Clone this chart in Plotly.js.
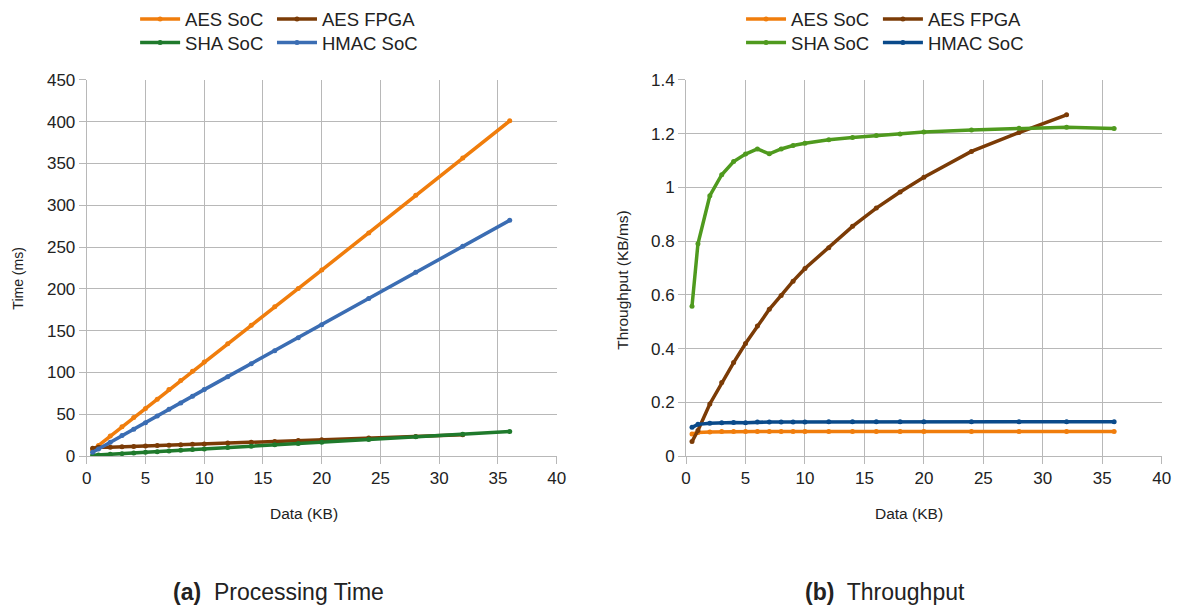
<!DOCTYPE html>
<html>
<head>
<meta charset="utf-8">
<script src="https://cdn.plot.ly/plotly-3.0.1.min.js"></script>
<style>html,body{margin:0;padding:0;background:#fff}#chart{width:1180px;height:610px}</style>
</head>
<body>
<div id="chart"></div>
<script>
// ---- data ----
const dataKB = [0.5, 1, 2, 3, 4, 5, 6, 7, 8, 9, 10, 12, 14, 16, 18, 20, 24, 28, 32, 36];
const dataKBFpga = [0.5, 1, 2, 3, 4, 5, 6, 7, 8, 9, 10, 12, 14, 16, 18, 20, 24, 28, 32];
const seriesNames = ["AES SoC", "AES FPGA", "SHA SoC", "HMAC SoC"];

// (a) processing time, ms
const timeAesSoc = [7, 12.5, 24, 35, 46, 57, 68, 79.5, 90.5, 101.5, 112.5, 134.5, 156.5, 178.5, 200.5, 222.5, 267, 312, 356.5, 401];
const timeAesFpga = [9.5, 10.5, 10.5, 11, 11.5, 12, 12.5, 13, 13.5, 14, 14.5, 15.5, 16.5, 17.5, 18.5, 19.5, 21.5, 23.5, 25.5];
const timeShaSoc = [0.9, 1.3, 2.1, 2.9, 3.7, 4.5, 5.3, 6.2, 7, 7.8, 8.6, 10.2, 11.8, 13.4, 15, 16.6, 19.8, 23, 26.1, 29.5];
const timeHmacSoc = [4.5, 8.5, 16.5, 24.5, 32, 40, 48, 56, 63.5, 71.5, 79.5, 95, 110.5, 126, 141.5, 157, 188.5, 220, 251, 282];

// (b) throughput, KB/ms
const tputAesSoc = [0.082, 0.088, 0.09, 0.091, 0.091, 0.091, 0.091, 0.091, 0.091, 0.091, 0.091, 0.091, 0.091, 0.091, 0.091, 0.091, 0.091, 0.091, 0.091, 0.091];
const tputAesFpga = [0.054, 0.095, 0.194, 0.274, 0.348, 0.419, 0.484, 0.546, 0.598, 0.651, 0.698, 0.775, 0.855, 0.923, 0.983, 1.038, 1.134, 1.204, 1.27];
const tputShaSoc = [0.558, 0.79, 0.969, 1.047, 1.096, 1.124, 1.143, 1.125, 1.143, 1.156, 1.164, 1.177, 1.186, 1.193, 1.199, 1.206, 1.214, 1.22, 1.224, 1.219];
const tputHmacSoc = [0.107, 0.118, 0.122, 0.124, 0.125, 0.124, 0.127, 0.127, 0.127, 0.127, 0.127, 0.128, 0.128, 0.128, 0.128, 0.128, 0.128, 0.128, 0.128, 0.128];

const xTicks = [0, 5, 10, 15, 20, 25, 30, 35, 40];
const timeTicks = [0, 50, 100, 150, 200, 250, 300, 350, 400, 450];
const tputTicks = [0, 0.2, 0.4, 0.6, 0.8, 1, 1.2, 1.4];
const tputTickText = ["0", "0.2", "0.4", "0.6", "0.8", "1", "1.2", "1.4"];

// ---- styles ----
const FONT = "Liberation Sans, Arial, sans-serif";
const colA = {aes: "#f07d0c", fpga: "#7b3b06", sha: "#1f7a2c", hmac: "#3b6db3"};
const colB = {aes: "#f07d0c", fpga: "#7b3b06", sha: "#4f9a1e", hmac: "#0a4a8a"};

function tr(x, y, name, color, xa, ya, legend) {
  return {
    x: x, y: y, name: name, type: "scatter", mode: "lines+markers",
    xaxis: xa, yaxis: ya, legend: legend,
    line: {color: color, width: 3.5},
    marker: {color: color, size: 5},
    hoverinfo: "x+y+name"
  };
}

const traces = [
  tr(dataKB, timeAesSoc, seriesNames[0], colA.aes, "x", "y", "legend"),
  tr(dataKBFpga, timeAesFpga, seriesNames[1], colA.fpga, "x", "y", "legend2"),
  tr(dataKB, timeShaSoc, seriesNames[2], colA.sha, "x", "y", "legend3"),
  tr(dataKB, timeHmacSoc, seriesNames[3], colA.hmac, "x", "y", "legend4"),
  tr(dataKB, tputAesSoc, seriesNames[0], colB.aes, "x2", "y2", "legend5"),
  tr(dataKBFpga, tputAesFpga, seriesNames[1], colB.fpga, "x2", "y2", "legend6"),
  tr(dataKB, tputShaSoc, seriesNames[2], colB.sha, "x2", "y2", "legend7"),
  tr(dataKB, tputHmacSoc, seriesNames[3], colB.hmac, "x2", "y2", "legend8")
];

const GRID = "#b8b8b8";
function xAxis(domain, anchor) {
  return {
    domain: domain, anchor: anchor, range: [0, 40], tickvals: xTicks,
    showgrid: true, gridcolor: GRID, gridwidth: 1,
    showline: true, linecolor: GRID, linewidth: 1, mirror: false,
    ticks: "outside", ticklen: 7, tickcolor: GRID,
    tickfont: {family: FONT, size: 17, color: "#222"},
    zeroline: false, automargin: false, fixedrange: true
  };
}
function yAxis(range, vals, text, anchor) {
  const a = {
    domain: [0.2536, 0.8733], anchor: anchor, range: range, tickvals: vals,
    showgrid: true, gridcolor: GRID, gridwidth: 1,
    showline: true, linecolor: GRID, linewidth: 1,
    ticks: "outside", ticklen: 7, tickcolor: GRID,
    tickfont: {family: FONT, size: 17, color: "#222"},
    zeroline: false, automargin: false, fixedrange: true
  };
  if (text) a.ticktext = text;
  return a;
}

function legendItem(x, y) {
  return {
    orientation: "h", x: x, y: y, xanchor: "left", yanchor: "middle",
    itemwidth: 40, tracegroupgap: 0,
    font: {family: FONT, size: 18.5, color: "#222"},
    bgcolor: "rgba(0,0,0,0)", borderwidth: 0
  };
}

function ann(text, x, y, size, angle) {
  return {text: text, x: x, y: y, xref: "paper", yref: "paper", showarrow: false,
          xanchor: "center", yanchor: "middle", textangle: angle || 0,
          font: {family: FONT, size: size, color: "#222"}};
}

const row1 = 0.973, row2 = 0.934;
const layout = {
  width: 1180, height: 610,
  margin: {l: 0, r: 0, t: 0, b: 0},
  paper_bgcolor: "#fff", plot_bgcolor: "#fff",
  font: {family: FONT, color: "#222"},
  showlegend: true,
  xaxis: xAxis([0.0735, 0.4718], "y"),
  yaxis: yAxis([0, 450], timeTicks, null, "x"),
  xaxis2: xAxis([0.5814, 0.9845], "y2"),
  yaxis2: yAxis([0, 1.4], tputTicks, tputTickText, "x2"),
  legend: legendItem(0.1145, row1),
  legend2: legendItem(0.2305, row1),
  legend3: legendItem(0.1145, row2),
  legend4: legendItem(0.2305, row2),
  legend5: legendItem(0.628, row1),
  legend6: legendItem(0.744, row1),
  legend7: legendItem(0.628, row2),
  legend8: legendItem(0.744, row2),
  annotations: [
    ann("Time (ms)", 0.0153, 0.546, 14, -90),
    ann("Data (KB)", 0.2576, 0.159, 15.5),
    ann("Throughput (KB/ms)", 0.528, 0.544, 15.5, -90),
    ann("Data (KB)", 0.7703, 0.159, 15.5),
    ann("<b>(a)</b>  Processing Time", 0.2356, 0.0295, 23),
    ann("<b>(b)</b>  Throughput", 0.75, 0.0295, 23)
  ]
};

Plotly.newPlot("chart", traces, layout, {displayModeBar: false, staticPlot: true});
</script>
</body>
</html>
